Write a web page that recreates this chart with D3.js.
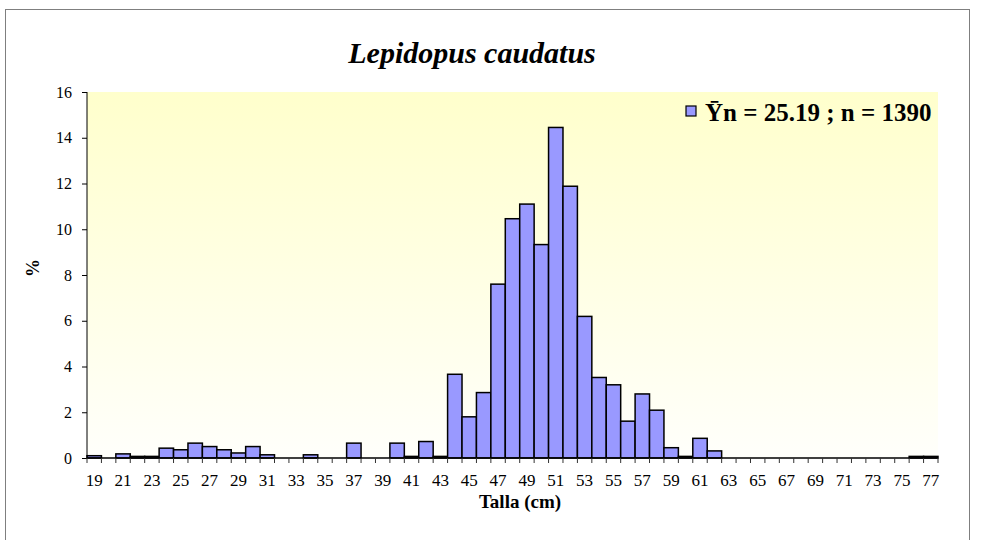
<!DOCTYPE html>
<html>
<head>
<meta charset="utf-8">
<script src="https://cdn.jsdelivr.net/npm/d3@7"></script>
<style>
  body { margin: 0; background: #fff; }
  svg text { font-family: "Liberation Serif", "Times New Roman", serif; fill: #000; }
</style>
</head>
<body>
<svg id="chart" width="981" height="540"></svg>
<script>
// talla (cm) classes and % frequency
const tallas = d3.range(19, 78);
const porcentajes = [
  0.1, 0, 0.18, 0.07, 0.07, 0.43, 0.36, 0.65, 0.5, 0.36,   // 19-28
  0.22, 0.5, 0.14, 0, 0, 0.14, 0, 0, 0.65, 0,             // 29-38
  0, 0.65, 0.07, 0.72, 0.07, 3.66, 1.8, 2.86, 7.6, 10.46,  // 39-48
  11.1, 9.33, 14.45, 11.88, 6.19, 3.52, 3.2, 1.61, 2.8, 2.09, // 49-58
  0.45, 0.07, 0.86, 0.31, 0, 0, 0, 0, 0, 0,               // 59-68
  0, 0, 0, 0, 0, 0, 0, 0.07, 0.07                          // 69-77
];
const yTicks = [0, 2, 4, 6, 8, 10, 12, 14, 16];
const titulo = 'Lepidopus caudatus';
const leyenda = '\u0232n = 25.19 ; n = 1390';

const svg = d3.select('#chart');
const plot = { left: 87, right: 938, top: 92, bottom: 458 };

// outer frame
svg.append('rect')
  .attr('x', 5.5).attr('y', 9.5)
  .attr('width', 964).attr('height', 540)
  .attr('fill', 'none').attr('stroke', '#7f7f7f').attr('stroke-width', 1);

const grad = svg.append('defs').append('linearGradient')
  .attr('id', 'bg').attr('x1', 0).attr('y1', 0).attr('x2', 0).attr('y2', 1);
grad.append('stop').attr('offset', '0%').attr('stop-color', '#ffffcc');
grad.append('stop').attr('offset', '100%').attr('stop-color', '#fffffb');

const x = d3.scaleBand().domain(tallas).range([plot.left, plot.right]).padding(0);
const y = d3.scaleLinear().domain([0, 16]).range([plot.bottom, plot.top]);

svg.append('rect')
  .attr('x', plot.left).attr('y', plot.top)
  .attr('width', plot.right - plot.left).attr('height', plot.bottom - plot.top)
  .attr('fill', 'url(#bg)');

svg.append('text')
  .attr('x', 472).attr('y', 63)
  .attr('text-anchor', 'middle')
  .style('font-size', '30px').style('font-weight', 'bold').style('font-style', 'italic')
  .text(titulo);

// bars
svg.append('g').selectAll('rect')
  .data(tallas.map((t, i) => ({ t, v: porcentajes[i] })).filter(d => d.v > 0))
  .enter().append('rect')
  .attr('x', d => x(d.t))
  .attr('y', d => y(d.v))
  .attr('width', x.bandwidth())
  .attr('height', d => y(0) - y(d.v))
  .attr('fill', '#9999ff')
  .attr('stroke', '#000')
  .attr('stroke-width', 1.5);

// y axis
const yAxis = d3.axisLeft(y).tickValues(yTicks).tickSize(5).tickPadding(10);
const gy = svg.append('g').attr('transform', `translate(${plot.left},0)`).call(yAxis)
  .attr('font-family', null);
gy.select('.domain').attr('d', `M0,${plot.top}V${plot.bottom}`).attr('stroke', '#000');
gy.selectAll('text').style('font-size', '16px');

// x axis: ticks between categories, labels every other class
const gx = svg.append('g').attr('transform', `translate(0,${plot.bottom})`);
gx.append('line')
  .attr('x1', plot.left).attr('x2', plot.right)
  .attr('y1', 0).attr('y2', 0).attr('stroke', '#000').attr('stroke-width', 1.5);
gx.selectAll('line.tick')
  .data(tallas.concat([78]))
  .enter().append('line')
  .attr('class', 'tick')
  .attr('x1', t => t === 78 ? plot.right : x(t))
  .attr('x2', t => t === 78 ? plot.right : x(t))
  .attr('y1', 0).attr('y2', 5)
  .attr('stroke', '#333');
gx.selectAll('text')
  .data(tallas.filter(t => (t - 19) % 2 === 0))
  .enter().append('text')
  .attr('x', t => x(t) + x.bandwidth() / 2)
  .attr('y', 28)
  .attr('text-anchor', 'middle')
  .style('font-size', '17px')
  .text(t => t);

svg.append('text')
  .attr('x', 520).attr('y', 508)
  .attr('text-anchor', 'middle')
  .style('font-size', '19px').style('font-weight', 'bold')
  .text('Talla (cm)');

svg.append('text')
  .attr('transform', 'translate(39,268) rotate(-90)')
  .attr('text-anchor', 'middle')
  .style('font-size', '18px').style('font-weight', 'bold')
  .text('%');

// legend
const lg = svg.append('g').attr('transform', 'translate(686,106)');
lg.append('rect').attr('x', 0).attr('y', 0).attr('width', 10).attr('height', 10)
  .attr('fill', '#9999ff').attr('stroke', '#000').attr('stroke-width', 1.2);
lg.append('text').attr('x', 19).attr('y', 15)
  .style('font-size', '25px').style('font-weight', 'bold')
  .text(leyenda);
</script>
</body>
</html>
